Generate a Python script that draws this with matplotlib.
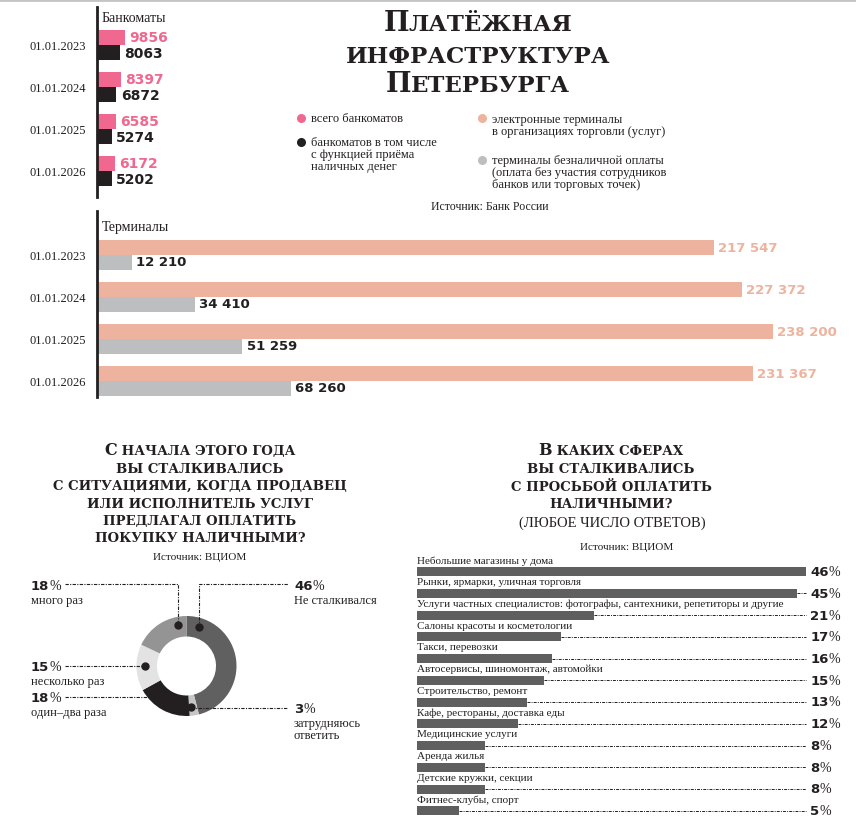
import matplotlib
matplotlib.use('Agg')
import matplotlib.pyplot as plt
import numpy as np

W, H = 856, 829

# --- data ---
dates = ['01.01.2023', '01.01.2024', '01.01.2025', '01.01.2026']
atm_total = [9856, 8397, 6585, 6172]
atm_cash = [8063, 6872, 5274, 5202]
term_shop = [217547, 227372, 238200, 231367]
term_self = [12210, 34410, 51259, 68260]

donut_labels = ['Не сталкивался', 'затрудняюсь\nответить', 'один–два раза',
                'несколько раз', 'много раз']
donut_values = [46, 3, 18, 15, 18]

spheres = [
    'Небольшие магазины у дома',
    'Рынки, ярмарки, уличная торговля',
    'Услуги частных специалистов: фотографы, сантехники, репетиторы и другие',
    'Салоны красоты и косметологии',
    'Такси, перевозки',
    'Автосервисы, шиномонтаж, автомойки',
    'Строительство, ремонт',
    'Кафе, рестораны, доставка еды',
    'Медицинские услуги',
    'Аренда жилья',
    'Детские кружки, секции',
    'Фитнес-клубы, спорт',
]
sphere_values = [46, 45, 21, 17, 16, 15, 13, 12, 8, 8, 8, 5]

# --- style ---
PINK = '#f0688f'
BLACK = '#231f20'
SALMON = '#edb39e'
GREY = '#bdbec0'
BAR = '#5f5f5f'
DONUT_COLORS = ['#606060', '#c6c6c6', '#231f20', '#e3e3e3', '#949494']
SERIF = 'Liberation Serif'
TITLE = 'DejaVu Serif'
NUM = 'DejaVu Sans'
DASH = (0, (3, 1.2, 1, 1.2))

fig = plt.figure(figsize=(W / 100, H / 100), dpi=100)


def px_axes(x0, y0, x1, y1):
    return fig.add_axes([x0 / W, 1 - y1 / H, (x1 - x0) / W, (y1 - y0) / H])


def plain(v):
    return str(v)


def spaced(v):
    return f'{v:,}'.replace(',', ' ')


# --- ATM and terminal bars (same x scale) ---
PX_PER_UNIT = 0.002836
XMAX = (W - 97) / PX_PER_UNIT
STEP = 42
BH = 15 / STEP

panels = [
    (8, 198, 46, atm_total, atm_cash, (PINK, BLACK), (PINK, BLACK), 10, plain),
    (212, 398, 255.5, term_shop, term_self, (SALMON, GREY), (SALMON, BLACK), 9.5, spaced),
]
for top, bot, c0, first, second, colors, lcolors, size, fmt in panels:
    ax = px_axes(97, top, W, bot)
    y = np.arange(len(dates))
    ax.barh(y - BH / 2, first, height=BH, color=colors[0])
    ax.barh(y + BH / 2, second, height=BH, color=colors[1])
    ax.set_xlim(0, XMAX)
    ax.set_ylim((bot - c0) / STEP, (top - c0) / STEP)
    for s in ['top', 'right', 'bottom']:
        ax.spines[s].set_visible(False)
    ax.spines['left'].set_linewidth(2)
    ax.spines['left'].set_color(BLACK)
    ax.set_xticks([])
    ax.set_yticks(y, dates, fontfamily=SERIF, color=BLACK)
    ax.tick_params(axis='y', length=0, pad=8, labelsize=9)
    ax.patch.set_alpha(0)
    for i in range(len(dates)):
        ax.annotate(fmt(first[i]), (first[i], i - BH / 2), xytext=(3, 0),
                    textcoords='offset points', va='center', ha='left',
                    color=lcolors[0], fontsize=size, fontweight='bold', family=NUM)
        ax.annotate(fmt(second[i]), (second[i], i + BH / 2), xytext=(3, 0),
                    textcoords='offset points', va='center', ha='left',
                    color=lcolors[1], fontsize=size, fontweight='bold', family=NUM)

# --- donut ---
CX, CY, R = 186.5, 667, 50
dax = px_axes(CX - R, CY - R, CX + R, CY + R)
dax.pie(donut_values, colors=DONUT_COLORS, startangle=90, counterclock=False,
        radius=1, wedgeprops=dict(width=0.41, edgecolor='none'))
dax.set_xlim(-1, 1)
dax.set_ylim(-1, 1)

# --- right bar chart ---
RPX = 8.45
RSTEP = 21.75
bax = px_axes(417, 548, W, H)
yy = np.arange(len(spheres))
bax.barh(yy, sphere_values, height=9 / RSTEP, color=BAR)
bax.set_xlim(0, (W - 417) / RPX)
bax.set_ylim((H - 572.5) / RSTEP, (548 - 572.5) / RSTEP)
bax.axis('off')
vmax = max(sphere_values)
for i, (name, v) in enumerate(zip(spheres, sphere_values)):
    bax.text(0, i - 0.53, name, va='center', ha='left', fontsize=8,
             family=SERIF, color=BLACK)
    if v < vmax:
        bax.plot([v, vmax], [i, i], color=BLACK, lw=0.7, ls=DASH)
    t = bax.text(vmax + 0.55, i, str(v), va='center', ha='left', fontsize=9.5,
                 fontweight='bold', family=NUM, color=BLACK)
    bax.annotate('%', xy=(1, 0.5), xycoords=t, va='center', ha='left',
                 fontsize=10, family=SERIF, color=BLACK)

# --- overlay for titles, legend, annotations ---
ov = fig.add_axes([0, 0, 1, 1])
ov.set_xlim(0, W)
ov.set_ylim(H, 0)
ov.axis('off')
ov.patch.set_alpha(0)
ov.set_zorder(10)

ov.plot([0, W], [1, 1], color='#c4c4c4', lw=2)


def smallcaps(text, big, small):
    runs = []
    for ch in text:
        size = big if ch.isupper() else small
        if runs and runs[-1][1] == size:
            runs[-1][0] += ch.upper()
        else:
            runs.append([ch.upper(), size])
    return runs


def centered_line(x, y, text, big, small):
    r = fig.canvas.get_renderer()
    arts = [ov.text(0, y, s, fontsize=sz, fontweight='bold', family=TITLE,
                    color=BLACK, va='baseline', ha='left')
            for s, sz in smallcaps(text, big, small)]
    widths = [a.get_window_extent(r).width for a in arts]
    left = x - sum(widths) / 2
    for a, w in zip(arts, widths):
        a.set_x(left)
        left += w


for txt, base in zip(['Платёжная', 'инфраструктура', 'Петербурга'], [31, 63, 92]):
    centered_line(478, base, txt, 19.5, 16.5)

left_title = ['С начала этого года', 'вы сталкивались', 'с ситуациями, когда продавец',
              'или исполнитель услуг', 'предлагал оплатить', 'покупку наличными?']
for txt, base in zip(left_title, [455, 473, 490, 508, 525, 542]):
    centered_line(200, base, txt, 11.5, 9.5)

right_title = ['В каких сферах', 'вы сталкивались', 'с просьбой оплатить', 'наличными?']
for txt, base in zip(right_title, [455, 473, 491, 508]):
    centered_line(611, base, txt, 11.5, 9.5)
ov.text(612, 527, '(ЛЮБОЕ ЧИСЛО ОТВЕТОВ)', ha='center', va='baseline',
        fontsize=10.5, family=SERIF, color=BLACK)

ov.text(102, 18, 'Банкоматы', va='center', ha='left', fontsize=10, family=SERIF, color=BLACK)
ov.text(102, 227, 'Терминалы', va='center', ha='left', fontsize=10, family=SERIF, color=BLACK)

# legend
legend = [
    (301, 119, PINK, 'всего банкоматов', 119),
    (301, 143, BLACK, 'банкоматов в том числе\nс функцией приёма\nналичных денег', 155),
    (482, 119, SALMON, 'электронные терминалы\nв организациях торговли (услуг)', 126),
    (482, 161, GREY, 'терминалы безналичной оплаты\n(оплата без участия сотрудников\nбанков или торговых точек)', 173),
]
for x, y, c, txt, ty in legend:
    ov.plot(x, y, 'o', ms=6.5, color=c, mec='none')
    ov.text(x + 10, ty, txt, va='center', ha='left', fontsize=9, family=SERIF,
            color=BLACK, linespacing=1.0)

ov.text(490, 207, 'Источник: Банк России', ha='center', va='center', fontsize=8.5,
        family=SERIF, color=BLACK)
ov.text(200, 558, 'Источник: ВЦИОМ', ha='center', va='center', fontsize=8,
        family=SERIF, color=BLACK)
ov.text(627, 547, 'Источник: ВЦИОМ', ha='center', va='center', fontsize=8,
        family=SERIF, color=BLACK)


def pct(x, base, value):
    t = ov.text(x, base, str(value), fontsize=9.5, fontweight='bold', family=NUM,
                color=BLACK, va='baseline', ha='left')
    ov.annotate('%', xy=(1, 0), xycoords=t, va='bottom', ha='left', fontsize=10,
                family=SERIF, color=BLACK)


rmid = 41.5


def dot_at(angle):
    a = np.deg2rad(angle)
    return CX + rmid * np.sin(a), CY - rmid * np.cos(a)


# 46% не сталкивался
dx, dy = dot_at(18)
ov.plot([dx, dx, 288], [dy, 585, 585], color=BLACK, lw=0.8, ls=DASH)
ov.plot(dx, dy, 'o', ms=5, color=BLACK)
pct(294, 590, donut_values[0])
ov.text(294, 604, donut_labels[0], va='baseline', fontsize=9, family=SERIF, color=BLACK)

# 3% затрудняюсь ответить
dx, dy = dot_at(174)
ov.plot([dx, 288], [709, 709], color=BLACK, lw=0.8, ls=DASH)
ov.plot(dx, dy, 'o', ms=5, color=BLACK)
pct(294, 713, donut_values[1])
ov.text(294, 718, donut_labels[1], va='top', fontsize=9, family=SERIF,
        color=BLACK, linespacing=1.05)

# 18% один–два раза
ov.plot([65, 148], [698, 698], color=BLACK, lw=0.8, ls=DASH)
pct(31, 702, donut_values[2])
ov.text(31, 716, donut_labels[2], va='baseline', fontsize=9, family=SERIF, color=BLACK)

# 15% несколько раз
dx, dy = dot_at(270)
ov.plot([65, dx], [dy, dy], color=BLACK, lw=0.8, ls=DASH)
ov.plot(dx, dy, 'o', ms=5, color=BLACK)
pct(31, 671, donut_values[3])
ov.text(31, 685, donut_labels[3], va='baseline', fontsize=9, family=SERIF, color=BLACK)

# 18% много раз
dx, dy = dot_at(-12)
ov.plot([65, dx, dx], [585, 585, dy], color=BLACK, lw=0.8, ls=DASH)
ov.plot(dx, dy, 'o', ms=5, color=BLACK)
pct(31, 590, donut_values[4])
ov.text(31, 604, donut_labels[4], va='baseline', fontsize=9, family=SERIF, color=BLACK)

fig.savefig('out.png', dpi=100)
